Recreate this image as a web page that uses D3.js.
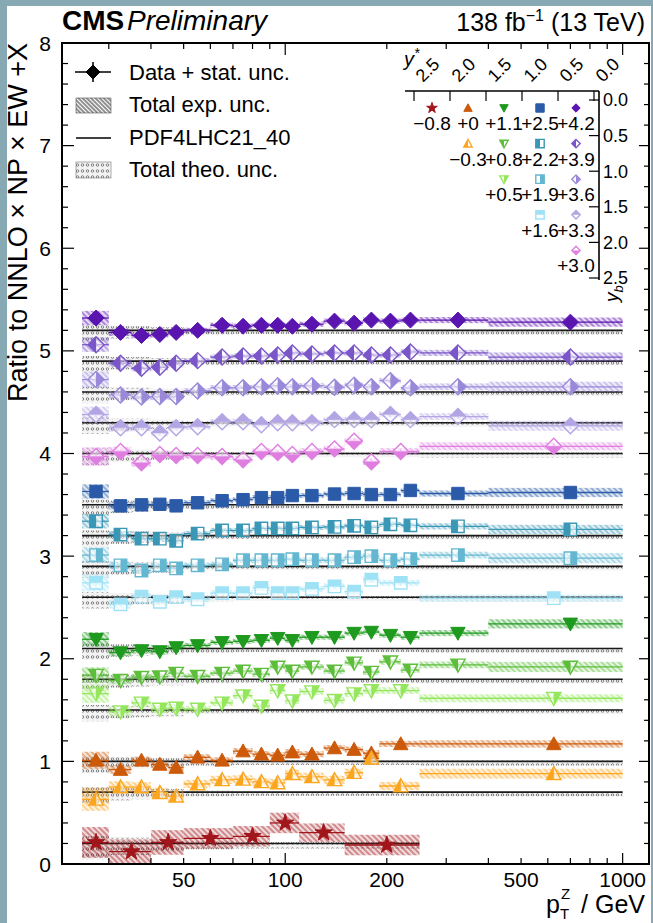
<!DOCTYPE html>
<html><head><meta charset="utf-8">
<script src="https://cdn.jsdelivr.net/npm/d3@7"></script>
<style>
body{margin:0;background:#fff;}
svg{display:block;font-family:"Liberation Sans", Arial, Helvetica, sans-serif;}
</style></head><body>
<svg id="c" width="653" height="923"></svg>
<script>
// ---------------- DATA ----------------
const binsFine   = [25,30,35,40,45,50,60,70,80,90,100,110,130,150,170,190,220,250,400,1000];
const binsMid    = [25,30,35,40,45,50,60,70,80,90,100,110,130,150,170,190,250,1000];
const binsCoarse = [25,30,40,50,70,90,110,150,250];

const xTickLabels = [50,100,200,500,1000];
const yTickLabels = [0,1,2,3,4,5,6,7,8];
const yStarLabels = ["2.5","2.0","1.5","1.0","0.5","0.0"];
const ybLabels    = ["0.0","0.5","1.0","1.5","2.0","2.5"];

// ratios data / theory (plotted at ratio + offset)
const r_p42 = [1.12,0.98,0.95,0.96,0.98,1.00,1.05,1.04,1.05,1.05,1.04,1.06,1.09,1.07,1.10,1.09,1.10,1.10,1.08];
const r_p39 = [1.16,0.98,0.93,0.94,0.98,1.005,1.04,1.05,1.05,1.06,1.08,1.07,1.08,1.08,1.06,1.06,1.09,1.08,1.04];
const r_p36 = [1.12,0.97,0.95,0.955,0.955,1.01,1.04,1.04,1.05,1.06,1.05,1.06,1.045,1.065,1.05,1.11,1.04,1.05,1.05];
const r_p33 = [1.08,0.95,0.95,0.90,0.95,0.96,1.01,1.01,0.98,1.00,1.00,1.00,1.03,1.03,1.03,1.08,1.03,1.06,0.97];
const r_p30 = [0.97,1.02,0.91,0.99,0.98,0.98,0.97,0.94,1.02,1.01,0.99,1.02,1.045,1.12,0.92,1.02,1.07];
const r_p25 = [1.13,0.99,1.00,1.005,0.99,1.02,1.04,1.05,1.07,1.07,1.09,1.09,1.105,1.11,1.10,1.10,1.14,1.11,1.12];
const r_p22 = [1.14,1.01,0.97,0.97,0.95,1.02,1.05,1.05,1.07,1.07,1.07,1.08,1.085,1.095,1.08,1.11,1.10,1.09,1.06];
const r_p19 = [1.11,1.01,0.96,1.01,0.98,1.01,1.02,1.06,1.06,1.06,1.07,1.06,1.06,1.09,1.10,1.06,1.07,1.11,1.08];
const r_p16 = [1.14,0.93,1.005,0.955,1.00,0.98,1.04,1.04,1.09,1.04,1.04,1.08,1.105,1.055,1.17,1.14,0.99];
const r_p11 = [1.09,0.96,0.98,0.97,1.01,1.03,1.06,1.07,1.08,1.10,1.08,1.11,1.11,1.15,1.16,1.13,1.11,1.15,1.24];
const r_p08 = [1.04,0.99,1.02,1.025,1.06,1.03,1.06,1.08,1.05,1.12,1.08,1.12,1.08,1.16,1.07,1.17,1.09,1.14,1.12];
const r_p05 = [1.16,0.985,1.07,1.01,1.02,1.01,1.07,1.14,1.04,1.19,1.09,1.18,1.095,1.16,1.19,1.19,1.115];
const r_p00 = [1.01,0.92,1.01,0.97,0.94,1.04,1.01,1.10,1.07,1.06,1.09,1.07,1.13,1.115,1.08,1.17,1.17];
const r_m03 = [0.93,1.05,1.05,0.995,0.96,1.08,1.12,1.125,1.10,1.09,1.18,1.15,1.12,1.19,1.33,1.06,1.18];
const r_m08 = [1.01,0.92,1.01,1.05,1.07,1.20,1.105,0.985];

const offsets   = [4.2,3.9,3.6,3.3,3.0,2.5,2.2,1.9,1.6,1.1,0.8,0.5,0,-0.3,-0.8];
const offLabels = ["+4.2","+3.9","+3.6","+3.3","+3.0","+2.5","+2.2","+1.9","+1.6","+1.1","+0.8","+0.5","+0","\u22120.3","\u22120.8"];

// uncertainties (relative), indexed by the fine bin containing the bin's lower edge
const expBase  = [0.07,0.035,0.03,0.03,0.03,0.025,0.025,0.025,0.025,0.025,0.025,0.025,0.025,0.025,0.025,0.025,0.025,0.03,0.045];
const expScale = [1.0,1.0,1.1,1.1,1.3,1.0,1.0,1.1,1.2,1.0,1.1,1.3,1.2,1.6,1];
const expStar  = [0.15,0.12,0.12,0.10,0.10,0.10,0.09,0.10];
const statBase = [0.02,0.01,0.01,0.01,0.01,0.01,0.01,0.01,0.01,0.012,0.012,0.012,0.015,0.018,0.02,0.02,0.025,0.02,0.03];
const statScale= [1,1,1.2,1.2,1.6,1,1,1.2,1.5,1,1.2,1.6,1.3,2.2,2.5];
const theoUp   = [0.05,0.04,0.04,0.03,0.03,0.015,0.015,0.01,0.01,0.01,0.01,0.01,0.01,0.01,0.01,0.01,0.01,0.01,0.01];
const theoDn   = [0.11,0.08,0.07,0.06,0.06,0.04,0.04,0.035,0.035,0.035,0.035,0.035,0.035,0.035,0.035,0.035,0.035,0.04,0.04];

// ---------------- STYLE ----------------
const colors = ["#5a14b0","#7a56c8","#9a88d9","#b3a5e4","#df7ee0",
                "#2b5ba8","#3a97b6","#63b7d0","#9fe2f6",
                "#1e9a1e","#5cbe3a","#94e65c",
                "#cc5a0a","#fca51f","#a0161b"];
const shapes = ["diamond","diamond","diamond","diamond","diamond","square","square","square","square",
                "tridown","tridown","tridown","triup","triup","star"];
const fills  = ["full","left","right","top","bottom","full","left","right","top","full","left","right","full","left","full"];
const gridRow = [0,1,2,3,4,0,1,2,3,0,1,2,0,1,0];
const gridCol = [4,4,4,4,4,3,3,3,3,2,2,2,1,1,0];
const valsList = [r_p42,r_p39,r_p36,r_p33,r_p30,r_p25,r_p22,r_p19,r_p16,r_p11,r_p08,r_p05,r_p00,r_m03,r_m08];
const binsList = [binsFine,binsFine,binsFine,binsFine,binsMid,binsFine,binsFine,binsFine,binsMid,
                  binsFine,binsFine,binsMid,binsMid,binsMid,binsCoarse];

// ---------------- CHART ----------------
const W=653,H=923;
const L=62,R=649,T=43,B=864;
const svg=d3.select("#c");
svg.append("rect").attr("width",W).attr("height",H).attr("fill","#fff");
svg.append("rect").attr("x",0).attr("y",0).attr("width",7).attr("height",H).attr("fill","#86a9b3");
svg.append("rect").attr("x",0).attr("y",0).attr("width",W).attr("height",6).attr("fill","#86a9b3");
svg.append("rect").attr("x",651).attr("y",0).attr("width",2).attr("height",H).attr("fill","#86a9b3");

const x=d3.scaleLog().domain([21.8,1197]).range([L,R]);
const y=d3.scaleLinear().domain([0,8]).range([B,T]);

const defs=svg.append("defs");
colors.forEach((c,i)=>{
  const p=defs.append("pattern").attr("id","h"+i).attr("patternUnits","userSpaceOnUse")
    .attr("width",4).attr("height",4).attr("patternTransform","rotate(-45)");
  p.append("rect").attr("width",4).attr("height",4).attr("fill",c).attr("opacity",0.15);
  p.append("line").attr("x1",1).attr("y1",0).attr("x2",1).attr("y2",4)
    .attr("stroke",c).attr("stroke-width",1.3).attr("opacity",0.65);
});
{
  const p=defs.append("pattern").attr("id","hk").attr("patternUnits","userSpaceOnUse")
    .attr("width",3).attr("height",3).attr("patternTransform","rotate(-45)");
  p.append("line").attr("x1",1).attr("y1",0).attr("x2",1).attr("y2",3).attr("stroke","#222").attr("stroke-width",1);
  const d=defs.append("pattern").attr("id","dots").attr("patternUnits","userSpaceOnUse")
    .attr("width",5).attr("height",6);
  d.append("rect").attr("width",5).attr("height",6).attr("fill","#e8e8e8").attr("opacity",0.55);
  d.append("circle").attr("cx",2.5).attr("cy",3).attr("r",1.25).attr("fill","#fff")
    .attr("stroke","#7a7a7a").attr("stroke-width",1);
}
[["left",-20,-20,20,40],["right",0,-20,20,40],["top",-20,-20,40,20],["bottom",-20,0,40,20]].forEach(c=>{
  defs.append("clipPath").attr("id","clip-"+c[0]).attr("clipPathUnits","userSpaceOnUse")
    .append("rect").attr("x",c[1]).attr("y",c[2]).attr("width",c[3]).attr("height",c[4]);
});

function markerPath(shape,s){
  if(shape==="diamond") return `M0,${-s}L${s},0L0,${s}L${-s},0Z`;
  if(shape==="square") return `M${-s},${-s}H${s}V${s}H${-s}Z`;
  if(shape==="tridown") return `M${-s},${-s*0.8}H${s}L0,${s}Z`;
  if(shape==="triup") return `M${-s},${s*0.8}H${s}L0,${-s}Z`;
  return d3.symbol(d3.symbolStar, s*s*2.2)();
}
const mSize={diamond:8,square:6.2,tridown:7.2,triup:7.2,star:6.5};
function drawMarker(g,shape,fill,color,s){
  const d=markerPath(shape,s);
  if(fill==="full"){
    g.append("path").attr("d",d).attr("fill",color).attr("stroke",color).attr("stroke-width",1);
  } else {
    g.append("path").attr("d",d).attr("fill","#fff").attr("fill-opacity",0.5);
    g.append("path").attr("d",d).attr("fill",color).attr("clip-path",`url(#clip-${fill})`);
    g.append("path").attr("d",d).attr("fill","none").attr("stroke",color).attr("stroke-width",1.4);
  }
}
function fineIdx(lo){ return binsFine.indexOf(lo); }

const series=valsList.map((vals,i)=>{
  const bins=binsList[i];
  return vals.map((v,j)=>{
    const lo=bins[j],hi=bins[j+1],fi=fineIdx(lo);
    return {lo,hi,mid:(lo+hi)/2,v,off:offsets[i],
      e: i===14?expStar[j]:expBase[fi]*expScale[i],
      s: statBase[fi]*statScale[i],
      tu: theoUp[fi]*(i===14?1.4:1), td: theoDn[fi]*(i===14?1.4:1)};
  });
});

const gTheo=svg.append("g"), gLine=svg.append("g"), gExp=svg.append("g"), gErr=svg.append("g"), gMk=svg.append("g");
series.forEach((pts,i)=>{
  const c=colors[i];
  pts.forEach(p=>{
    gTheo.append("rect").attr("x",x(p.lo)).attr("width",x(p.hi)-x(p.lo))
      .attr("y",y(1+p.off+p.tu)).attr("height",y(1+p.off-p.td)-y(1+p.off+p.tu)).attr("fill","url(#dots)");
    gExp.append("rect").attr("x",x(p.lo)).attr("width",x(p.hi)-x(p.lo))
      .attr("y",y(p.v+p.off+p.e)).attr("height",y(p.v+p.off-p.e)-y(p.v+p.off+p.e)).attr("fill",`url(#h${i})`);
    gErr.append("line").attr("x1",x(p.lo)).attr("x2",x(p.hi)).attr("y1",y(p.v+p.off)).attr("y2",y(p.v+p.off))
      .attr("stroke",c).attr("stroke-width",1.3);
    gErr.append("line").attr("x1",x(p.mid)).attr("x2",x(p.mid)).attr("y1",y(p.v+p.off-p.s)).attr("y2",y(p.v+p.off+p.s))
      .attr("stroke",c).attr("stroke-width",1.3);
    const g=gMk.append("g").attr("transform",`translate(${x(p.mid)},${y(p.v+p.off)})`);
    drawMarker(g,shapes[i],fills[i],c,mSize[shapes[i]]);
  });
  const first=pts[0].lo,last=pts[pts.length-1].hi;
  gLine.append("line").attr("x1",x(first)).attr("x2",x(last)).attr("y1",y(1+offsets[i])).attr("y2",y(1+offsets[i]))
    .attr("stroke","#1a1a1a").attr("stroke-width",1.6);
});

// ---------------- AXES ----------------
const ax=svg.append("g");
const majX=[100,1000];
const minX=[30,40,50,60,70,80,90,200,300,400,500,600,700,800,900];
function tickLine(x1,y1,x2,y2){ax.append("line").attr("x1",x1).attr("y1",y1).attr("x2",x2).attr("y2",y2).attr("stroke","#000").attr("stroke-width",1.2);}
majX.forEach(v=>{tickLine(x(v),B,x(v),B-11);tickLine(x(v),T,x(v),T+12);});
minX.forEach(v=>{tickLine(x(v),B,x(v),B-6);tickLine(x(v),T,x(v),T+6);});
for(let v=0;v<=8.0001;v+=0.2){
  const maj=Math.abs(v-Math.round(v))<1e-6;
  tickLine(L,y(v),L+(maj?12:6),y(v));
  tickLine(R,y(v),R-(maj?10:5),y(v));
}
ax.append("rect").attr("x",L).attr("y",T).attr("width",R-L).attr("height",B-T)
  .attr("fill","none").attr("stroke","#000").attr("stroke-width",2);
xTickLabels.forEach(v=>{
  ax.append("text").attr("x",x(v)).attr("y",887).attr("text-anchor","middle").attr("font-size",21).text(v);
});
yTickLabels.forEach(v=>{
  ax.append("text").attr("x",51).attr("y",y(v)).attr("dy","0.36em").attr("text-anchor","end").attr("font-size",21).text(v);
});
// axis titles
ax.append("text").attr("x",546).attr("y",913).attr("font-size",25).text("p");
ax.append("text").attr("x",560).attr("y",919).attr("font-size",15).text("T");
ax.append("text").attr("x",561).attr("y",899).attr("font-size",15).text("Z");
ax.append("text").attr("x",645).attr("y",913).attr("text-anchor","end").attr("font-size",25).text("/ GeV");
ax.append("text").attr("transform","translate(27,43) rotate(-90)").attr("text-anchor","end")
  .attr("font-size",27).text("Ratio to NNLO \u00d7 NP \u00d7 EW +X");

// header
ax.append("text").attr("x",62).attr("y",30).attr("font-size",28).attr("font-weight","bold").text("CMS");
ax.append("text").attr("x",127).attr("y",30).attr("font-size",28).attr("font-style","italic").text("Preliminary");
const lum=ax.append("text").attr("x",645).attr("y",31).attr("text-anchor","end").attr("font-size",25);
lum.append("tspan").text("138 fb");
lum.append("tspan").attr("font-size",16).attr("dy",-10).text("\u22121");
lum.append("tspan").attr("dy",10).text(" (13 TeV)");

// ---------------- LEGEND (left) ----------------
const lg=svg.append("g");
lg.append("line").attr("x1",75).attr("x2",111).attr("y1",72).attr("y2",72).attr("stroke","#000").attr("stroke-width",1.5);
lg.append("line").attr("x1",93).attr("x2",93).attr("y1",62).attr("y2",82).attr("stroke","#000").attr("stroke-width",1.5);
drawMarker(lg.append("g").attr("transform","translate(93,72)"),"diamond","full","#000",7);
lg.append("rect").attr("x",76).attr("y",98).attr("width",35).attr("height",15).attr("fill","url(#hk)").attr("stroke","#555").attr("stroke-width",0.6);
lg.append("line").attr("x1",76).attr("x2",111).attr("y1",138).attr("y2",138).attr("stroke","#000").attr("stroke-width",1.5);
lg.append("rect").attr("x",76).attr("y",162).attr("width",35).attr("height",16).attr("fill","url(#dots)").attr("stroke","#777").attr("stroke-width",0.6);
const legTexts=["Data + stat. unc.","Total exp. unc.","PDF4LHC21_40","Total theo. unc."];
const legBase=[80,112,145,177];
legTexts.forEach((t,i)=>lg.append("text").attr("x",129).attr("y",legBase[i]).attr("font-size",22).text(t));

// ---------------- LEGEND GRID (right) ----------------
const gx=d3.scaleLinear().domain([2.5,0]).range([414,594]);
const gy=d3.scaleLinear().domain([0,2.5]).range([100,278]);
const gg=svg.append("g");
gg.append("line").attr("x1",405).attr("x2",599).attr("y1",91).attr("y2",91).attr("stroke","#000").attr("stroke-width",1.6);
gg.append("line").attr("x1",599).attr("x2",599).attr("y1",91).attr("y2",280).attr("stroke","#000").attr("stroke-width",1.6);
yStarLabels.forEach(s=>{
  const v=+s;
  gg.append("line").attr("x1",gx(v)).attr("x2",gx(v)).attr("y1",91).attr("y2",101).attr("stroke","#000").attr("stroke-width",1.2);
  gg.append("text").attr("transform",`translate(${gx(v)+9},83) rotate(-45)`).attr("font-size",18).text(s);
});
ybLabels.forEach(s=>{
  const v=+s;
  gg.append("line").attr("x1",589).attr("x2",599).attr("y1",gy(v)).attr("y2",gy(v)).attr("stroke","#000").attr("stroke-width",1.2);
  gg.append("text").attr("x",603).attr("y",gy(v)).attr("dy","0.36em").attr("font-size",18).text(s);
});
const ysl=gg.append("text").attr("x",404).attr("y",66).attr("font-size",20).attr("font-style","italic");
ysl.append("tspan").text("y");
ysl.append("tspan").attr("font-size",14).attr("dy",-8).text("*");
const ybl=gg.append("text").attr("transform","translate(618,302) rotate(-90)").attr("font-size",19).attr("font-style","italic");
ybl.append("tspan").text("y");
ybl.append("tspan").attr("font-size",13).attr("dy",5).text("b");
offsets.forEach((o,i)=>{
  const cx=gx(2.5-gridCol[i]*0.5-0.25), r=gridRow[i];
  const g=gg.append("g").attr("transform",`translate(${cx},${gy(r*0.5)+8})`);
  drawMarker(g,shapes[i],fills[i],colors[i],shapes[i]==="star"?4:4.2);
  gg.append("text").attr("x",cx).attr("y",gy(r*0.5)+30).attr("text-anchor","middle").attr("font-size",19).text(offLabels[i]);
});
</script></body></html>
